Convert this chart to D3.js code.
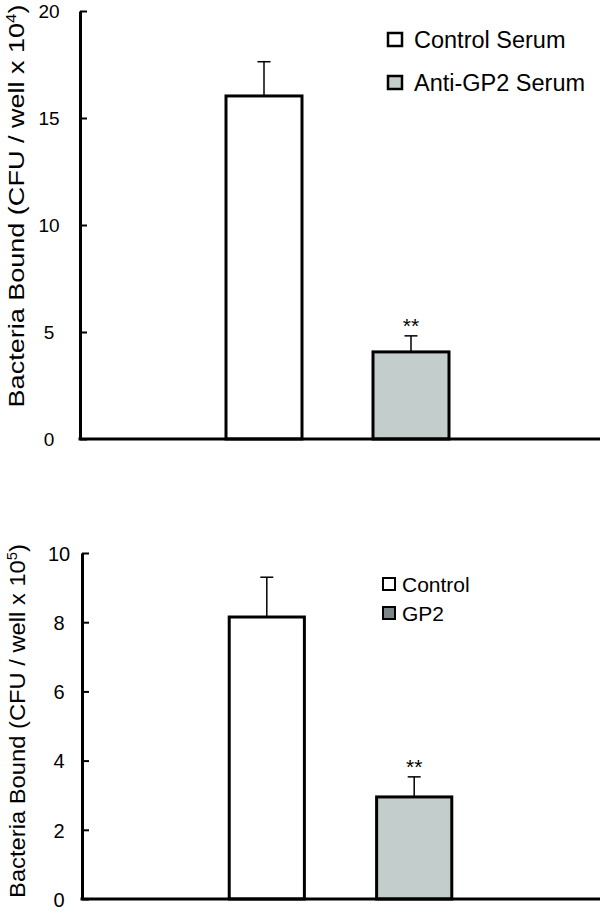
<!DOCTYPE html>
<html>
<head>
<meta charset="utf-8">
<script src="https://cdn.jsdelivr.net/npm/d3@7"></script>
<style>
  html, body { margin: 0; padding: 0; background: #fff; }
  svg { display: block; font-family: "Liberation Sans", Arial, Helvetica, sans-serif; }
</style>
</head>
<body>
<svg id="chart" width="600" height="917"></svg>
<script>
// ---------- DATA ----------
const topCategories = ["Control Serum", "Anti-GP2 Serum"];
const topValues = [16.03, 4.07];
const topErrors = [1.6, 0.75];
const topSignif = ["", "**"];
const topTicks = [0, 5, 10, 15, 20];

const botCategories = ["Control", "GP2"];
const botValues = [8.15, 2.95];
const botErrors = [1.15, 0.58];
const botSignif = ["", "**"];
const botTicks = [0, 2, 4, 6, 8, 10];

const barFills = ["#ffffff", "#c3cdcb"];
const topLegendFills = ["#ffffff", "#c3cdcb"];
const botLegendFills = ["#ffffff", "#7b8786"];

const svg = d3.select("#chart");

function panel(cfg) {
  const g = svg.append("g");
  const y = d3.scaleLinear().domain(cfg.domain).range([cfg.y0, cfg.y1]);
  const x = d3.scaleBand().domain(cfg.categories).range(cfg.xRange)
    .paddingInner(cfg.pad).paddingOuter(cfg.pad);

  // y axis with inward ticks
  const ax = g.append("g").attr("transform", `translate(${cfg.axisX},0)`)
    .call(d3.axisLeft(y).tickValues(cfg.ticks).tickSize(-7).tickSizeOuter(0).tickFormat(d3.format("d")));
  ax.select(".domain").attr("stroke", "#000").attr("stroke-width", 3);
  ax.selectAll(".tick line").attr("stroke", "#000").attr("stroke-width", 2);
  ax.selectAll(".tick text")
    .attr("x", cfg.labelDx).attr("dy", "0.36em")
    .attr("text-anchor", "middle")
    .attr("font-size", cfg.tickFont)
    .attr("font-family", "Liberation Sans, Arial, sans-serif")
    .attr("fill", "#000");

  // bars
  cfg.categories.forEach((c, i) => {
    const v = cfg.values[i], e = cfg.errors[i];
    const cx = x(c) + x.bandwidth() / 2;
    g.append("line").attr("x1", cx).attr("x2", cx)
      .attr("y1", y(v)).attr("y2", y(v + e))
      .attr("stroke", "#000").attr("stroke-width", 1.5);
    g.append("line").attr("x1", cx - 6.5).attr("x2", cx + 6.5)
      .attr("y1", y(v + e)).attr("y2", y(v + e))
      .attr("stroke", "#000").attr("stroke-width", 1.5);
    g.append("rect")
      .attr("x", x(c)).attr("width", x.bandwidth())
      .attr("y", y(v)).attr("height", y(0) - y(v))
      .attr("fill", barFills[i]).attr("stroke", "#000").attr("stroke-width", 3);
    if (cfg.signif[i]) {
      g.append("text").attr("x", cx).attr("y", y(v + e) - 3)
        .attr("text-anchor", "middle").attr("font-size", 21)
        .text(cfg.signif[i]);
    }
  });

  // x baseline
  g.append("line").attr("x1", cfg.axisX - 1.5).attr("x2", 600)
    .attr("y1", y(0)).attr("y2", y(0))
    .attr("stroke", "#000").attr("stroke-width", 3);

  // y label
  const lab = g.append("text")
    .attr("text-anchor", "middle")
    .attr("font-size", 22.5);
  lab.append("tspan").text("Bacteria Bound (CFU / well x 10");
  lab.append("tspan").attr("font-size", 14).attr("dy", -8).text(cfg.exp);
  lab.append("tspan").attr("dy", 8).text(")");
  const len = lab.node().getComputedTextLength();
  const sx = cfg.labelLen / len;
  lab.attr("transform", `translate(${cfg.labelX},${cfg.labelCy}) rotate(-90) scale(${sx},1)`);

  // legend
  cfg.categories.forEach((c, i) => {
    const ly = cfg.legY + i * cfg.legStep;
    g.append("rect").attr("x", cfg.legX).attr("y", ly)
      .attr("width", cfg.sw).attr("height", cfg.sh)
      .attr("fill", cfg.legFills[i]).attr("stroke", "#000").attr("stroke-width", cfg.swStroke);
    g.append("text").attr("x", cfg.legTextX).attr("y", ly + cfg.sh / 2)
      .attr("dy", "0.36em").attr("font-size", cfg.legFont).text(c);
  });
}

panel({
  domain: [0, 20], y0: 439, y1: 11, ticks: topTicks,
  categories: topCategories, values: topValues, errors: topErrors, signif: topSignif,
  xRange: [155, 520], pad: 0.483, axisX: 80, labelDx: -31, tickFont: 19,
  labelX: 24, labelCy: 206, labelLen: 403,
  legX: 388, legY: 33, legStep: 43, sw: 14, sh: 13, swStroke: 2.5,
  legTextX: 414, legFont: 23.5, legFills: topLegendFills, exp: "4"
});

panel({
  domain: [0, 10], y0: 899, y1: 553, ticks: botTicks,
  categories: botCategories, values: botValues, errors: botErrors, signif: botSignif,
  xRange: [157, 524], pad: 0.49, axisX: 82, labelDx: -23, tickFont: 20,
  labelX: 25, labelCy: 721, labelLen: 354,
  legX: 383, legY: 578, legStep: 29, sw: 12, sh: 12, swStroke: 2,
  legTextX: 402, legFont: 21, legFills: botLegendFills, exp: "5"
});
</script>
</body>
</html>
